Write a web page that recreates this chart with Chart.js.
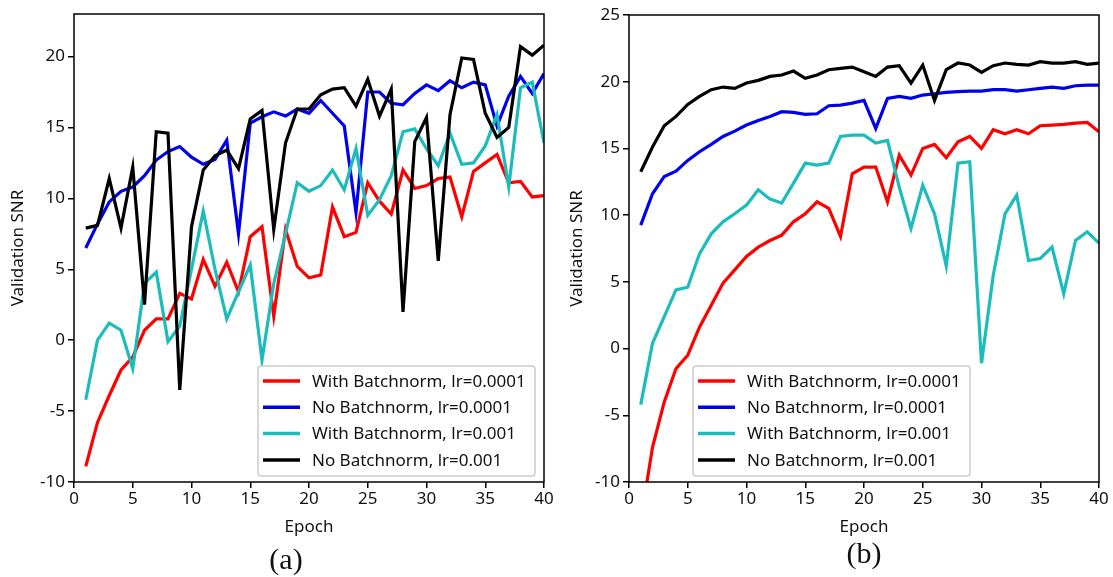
<!DOCTYPE html>
<html>
<head>
<meta charset="utf-8">
<script src="https://cdn.jsdelivr.net/npm/chart.js@4.4.1/dist/chart.umd.min.js"></script>
<style>
  body { margin: 0; background: #fff; width: 1113px; height: 577px; position: relative; overflow: hidden; }
  .panel { position: absolute; top: 0; }
  .cap { position: absolute; font-family: "Liberation Serif", serif; font-size: 30px; color: #111; transform: translate(-50%, -50%); }
</style>
</head>
<body>
<div class="panel" style="left:0"><canvas id="chartA" width="556" height="577"></canvas></div>
<div class="panel" style="left:556px"><canvas id="chartB" width="557" height="577"></canvas></div>
<div class="cap" style="left:286px;top:559px">(a)</div>
<div class="cap" style="left:864px;top:553px">(b)</div>
<script>
const epochs = [1,2,3,4,5,6,7,8,9,10,11,12,13,14,15,16,17,18,19,20,
                21,22,23,24,25,26,27,28,29,30,31,32,33,34,35,36,37,38,39,40];
const seriesNames = ["With Batchnorm, lr=0.0001", "No Batchnorm, lr=0.0001",
                     "With Batchnorm, lr=0.001", "No Batchnorm, lr=0.001"];
const seriesColors = ["#ff0000", "#0000ee", "#1cbcbc", "#000000"];

// (a)
const aBnSlow = [-8.9,-5.8,-3.9,-2.1,-1.2,0.7,1.5,1.5,3.3,2.9,5.7,3.8,5.5,3.4,7.3,8.0,1.7,7.8,5.2,4.4,
                 4.6,9.4,7.3,7.6,11.1,9.8,8.9,12.0,10.7,10.9,11.4,11.5,8.7,11.9,12.5,13.1,11.1,11.2,10.1,10.2];
const aNoBnSlow = [6.5,8.2,9.75,10.5,10.8,11.6,12.7,13.3,13.65,12.9,12.4,12.75,14.1,7.5,15.3,15.75,16.1,15.8,16.3,16.0,
                   16.9,16.0,15.1,9.0,17.5,17.5,16.7,16.6,17.4,18.0,17.6,18.3,17.8,18.2,18.0,15.1,17.2,18.6,17.4,18.8];
const aBnFast = [-4.2,0.0,1.2,0.7,-2.0,4.0,4.8,-0.1,1.0,5.0,9.1,5.0,1.5,3.4,5.3,-1.4,4.0,7.5,11.1,10.5,
                 10.9,12.0,10.6,13.5,8.8,9.9,11.6,14.7,14.9,13.5,12.3,14.6,12.4,12.5,13.7,15.9,10.8,17.8,18.2,13.9];
const aNoBnFast = [7.9,8.1,11.4,7.9,12.2,2.5,14.7,14.6,-3.5,8.0,12.0,13.0,13.4,12.1,15.6,16.2,7.8,13.9,16.3,16.3,
                   17.3,17.7,17.8,16.5,18.4,15.8,17.7,2.0,14.0,15.7,5.6,15.9,19.9,19.8,16.0,14.3,15.0,20.7,20.1,20.8];

// (b)
const bBnSlow = [-12.9,-7.4,-4.0,-1.5,-0.5,1.6,3.25,4.9,5.9,6.9,7.6,8.1,8.5,9.5,10.1,11.0,10.5,8.4,13.1,13.6,
                 13.6,11.0,14.5,13.0,15.0,15.3,14.3,15.5,15.9,15.0,16.4,16.1,16.4,16.1,16.7,16.75,16.8,16.9,16.95,16.25];
const bNoBnSlow = [9.25,11.6,12.9,13.3,14.1,14.75,15.3,15.9,16.3,16.75,17.1,17.4,17.75,17.7,17.55,17.6,18.2,18.25,18.4,18.6,
                   16.5,18.75,18.9,18.75,19.0,19.1,19.2,19.25,19.3,19.3,19.4,19.4,19.3,19.4,19.5,19.6,19.5,19.7,19.75,19.75];
const bBnFast = [-4.2,0.4,2.4,4.4,4.6,7.1,8.6,9.5,10.1,10.75,11.9,11.2,10.9,12.4,13.9,13.75,13.9,15.9,16.0,16.0,
                 15.4,15.6,12.1,9.0,12.25,10.1,6.2,13.9,14.0,-1.1,5.5,10.1,11.5,6.6,6.75,7.6,4.1,8.1,8.75,7.9];
const bNoBnFast = [13.25,15.1,16.7,17.4,18.3,18.9,19.4,19.6,19.5,19.9,20.1,20.4,20.5,20.8,20.25,20.5,20.9,21.0,21.1,20.75,
                   20.4,21.1,21.2,19.9,21.25,18.6,20.9,21.4,21.25,20.7,21.2,21.4,21.3,21.25,21.5,21.4,21.4,21.5,21.3,21.4];

const xTicks = [0,5,10,15,20,25,30,35,40];
const aYTicks = [-10,-5,0,5,10,15,20];
const bYTicks = [-10,-5,0,5,10,15,20,25];

const FONT = '"Noto Sans", "Open Sans", sans-serif';
const TXT = '#111';

// black box round the plot area, like matplotlib
const frame = {
  id: 'frame',
  afterDraw(chart) {
    const {ctx, chartArea: a} = chart;
    ctx.save();
    ctx.strokeStyle = '#000';
    ctx.lineWidth = 1.5;
    ctx.strokeRect(a.left, a.top, a.right - a.left, a.bottom - a.top);
    ctx.restore();
  }
};

// legend drawn inside the plot
const legendBox = {
  id: 'legendBox',
  afterDatasetsDraw(chart, args, opts) {
    const {ctx, chartArea: a} = chart;
    const w = 277, h = 110;
    const x = opts.fromRight ? a.right - opts.dx - w : a.left + opts.dx;
    const y = a.bottom - opts.dy - h;
    ctx.save();
    ctx.fillStyle = 'rgba(255,255,255,0.85)';
    ctx.strokeStyle = '#cccccc';
    ctx.lineWidth = 1.5;
    ctx.beginPath();
    ctx.roundRect(x, y, w, h, 3);
    ctx.fill();
    ctx.stroke();
    ctx.font = '17px ' + FONT;
    ctx.textBaseline = 'middle';
    chart.data.datasets.forEach((ds, i) => {
      const cy = y + 15 + 26.3 * i;
      ctx.strokeStyle = ds.borderColor;
      ctx.lineWidth = 3.5;
      ctx.beginPath();
      ctx.moveTo(x + 5, cy);
      ctx.lineTo(x + 42, cy);
      ctx.stroke();
      ctx.fillStyle = TXT;
      ctx.fillText(ds.label, x + 54, cy + 1);
    });
    ctx.restore();
  }
};

function makeChart(id, series, cfg) {
  const datasets = series.map((vals, i) => ({
    label: seriesNames[i],
    data: epochs.map((e, j) => ({x: e, y: vals[j]})),
    borderColor: seriesColors[i],
    backgroundColor: seriesColors[i],
    borderWidth: 3.2,
    pointRadius: 0,
    tension: 0,
    order: 4 - i
  }));
  return new Chart(document.getElementById(id), {
    type: 'line',
    data: {datasets: datasets},
    options: {
      responsive: false,
      animation: false,
      layout: {padding: {top: cfg.top, right: cfg.right, left: 0, bottom: 0}},
      plugins: {
        legend: {display: false},
        tooltip: {enabled: false},
        legendBox: cfg.legend
      },
      scales: {
        x: {
          type: 'linear', min: 0, max: 40,
          afterBuildTicks: s => { s.ticks = xTicks.map(v => ({value: v})); },
          afterFit: s => { s.height = 95; },
          grid: {drawOnChartArea: false, drawTicks: true, tickLength: 6, tickColor: '#000', lineWidth: 1.5},
          border: {display: false},
          ticks: {color: TXT, font: {family: FONT, size: 17}, padding: 1, maxRotation: 0},
          title: {display: true, text: 'Epoch', color: TXT, font: {family: FONT, size: 17}, padding: {top: 0, bottom: 40}}
        },
        y: {
          type: 'linear', min: cfg.yMin, max: cfg.yMax,
          afterBuildTicks: s => { s.ticks = cfg.yTicks.map(v => ({value: v})); },
          afterFit: s => { s.width = cfg.yWidth; },
          grid: {drawOnChartArea: false, drawTicks: true, tickLength: 6, tickColor: '#000', lineWidth: 1.5},
          border: {display: false},
          ticks: {color: TXT, font: {family: FONT, size: 17}, padding: 3},
          title: {display: true, text: 'Validation SNR', color: TXT, font: {family: FONT, size: 17}, padding: {top: cfg.titlePad, bottom: 0}}
        }
      }
    },
    plugins: [frame, legendBox]
  });
}

makeChart('chartA', [aBnSlow, aNoBnSlow, aBnFast, aNoBnFast], {
  top: 14, right: 12, yMin: -10, yMax: 23, yTicks: aYTicks, yWidth: 74, titlePad: 8,
  legend: {fromRight: true, dx: 9, dy: 6}
});

makeChart('chartB', [bBnSlow, bNoBnSlow, bBnFast, bNoBnFast], {
  top: 15, right: 14, yMin: -10, yMax: 25, yTicks: bYTicks, yWidth: 73, titlePad: 10.5,
  legend: {fromRight: false, dx: 64, dy: 6}
});
</script>
</body>
</html>
